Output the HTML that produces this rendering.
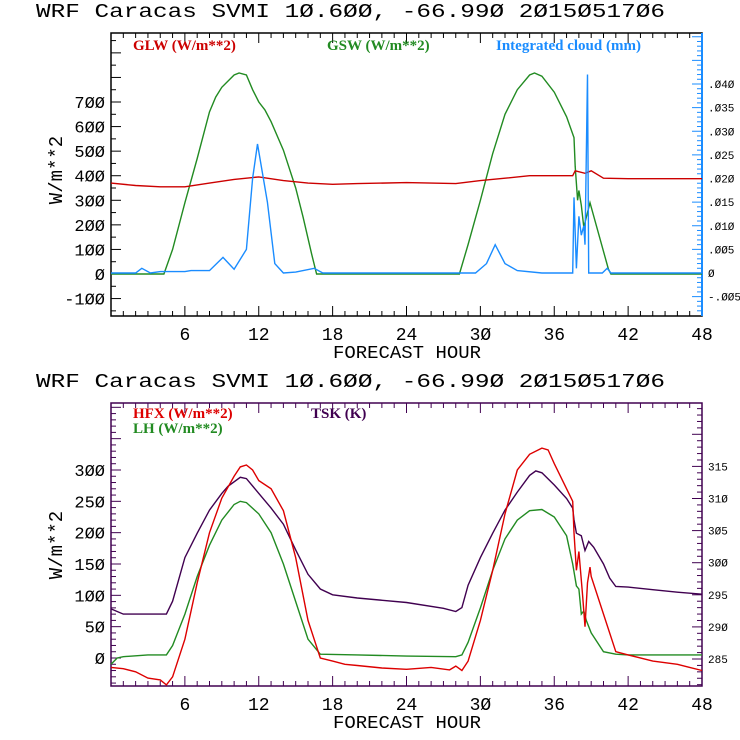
<!DOCTYPE html>
<html><head><meta charset="utf-8"><style>
html,body{margin:0;padding:0;background:#fff;}
svg{display:block;}
.t{font-family:"Liberation Mono","DejaVu Sans Mono",monospace;}
.lg{font-family:"Liberation Serif",serif;font-size:15px;font-weight:bold;}
</style></head><body>
<svg id="c" width="740" height="740" viewBox="0 0 740 740" xmlns="http://www.w3.org/2000/svg"></svg>
<script>
// ---------- data ----------
const glwHours=[0,2,4,6,8,10,12,14,16,18,20,24,28,30,32,34,37.5,37.7,38.5,39,40,42,48];
const glwVals=[370,360,355,355,370,385,395,380,370,365,368,372,368,380,390,400,400,420,410,420,390,388,388];
const gswHours=[0,4.3,5,6,7,8,8.5,9,10,10.4,11,11.5,12,12.5,13,14,15,15.6,16.3,16.7,28.3,29,30,31,32,33,34,34.4,35,36,37,37.6,37.7,37.9,38.0,38.2,38.4,38.6,38.9,40.4,40.6,48];
const gswVals=[0,0,100,290,470,660,720,760,810,818,810,750,700,668,620,504,350,231,80,0,0,120,300,490,650,750,810,818,805,740,640,555,437,300,340,280,190,231,290,20,0,0];
const cloudHours=[0,2,2.5,3.2,4,6,6.5,8,9.1,10,11,11.5,11.9,12.7,13.3,14,15,16.5,17.2,29.6,30.5,31.2,32,33,35,37.5,37.6,37.8,38,38.2,38.4,38.5,38.7,38.8,39.9,40.3,40.6,48];
const cloudVals=[0,0,.001,0,.0003,.0003,.0005,.0005,.0033,.0008,.005,.02,.0273,.015,.002,0,.0002,.001,0,0,.002,.006,.002,.0005,0,0,.016,.001,.012,.008,.01,.006,.042,0,0,.001,0,0];

const hfxHours=[0,1,2,3,4,4.5,5,6,7,8,9,10,10.5,11,11.5,12,13,14,15,16,17,18,19,20,22,24,26,27.5,28,28.5,29,30,31,32,33,34,35,35.5,36,37,37.5,37.6,37.8,38,38.3,38.5,38.7,38.9,39,40,41,42,44,46,47,48];
const hfxVals=[-15,-17,-22,-32,-35,-43,-30,30,120,200,255,290,305,308,300,283,270,235,160,60,0,-5,-10,-12,-16,-18,-15,-19,-13,-20,-5,60,140,230,300,325,335,332,310,270,250,200,140,170,100,50,120,145,130,70,10,5,-5,-10,-15,-20];
const lhHours=[0,0.5,1,3,4.5,5,6,7,8,9,10,10.5,11,12,13,14,15,16,17,20,24,28,28.5,29,30,31,32,33,34,35,36,37,37.5,37.8,38,38.2,38.4,38.6,39,40,41,42,48];
const lhVals=[-10,0,2,5,5,20,70,130,180,220,245,250,248,230,200,150,90,30,6,5,3,2,5,25,80,140,190,220,235,237,225,195,150,115,110,70,75,60,40,10,6,5,5];
const tskHours=[0,1,4.5,5,6,7,8,9,9.5,10.5,11,12,13,14,15,16,17,18,20,24,27,28,28.5,29,30,31,32,33,34,34.5,35,36,37,37.5,37.6,37.8,38.2,38.5,38.8,39.2,40,40.5,41,42,44,46,48];
const tskVals=[292.8,292.0,292.0,294,300.8,304.6,308.2,310.8,311.9,313.3,313.1,310.8,308.5,306,302,298.2,295.9,295.0,294.5,293.8,292.9,292.4,293.0,296.5,300.8,304.6,308.2,311,313.6,314.3,314,312.1,310,308.5,306.7,304.6,304.2,301.9,303.3,302.4,299.8,297.6,296.3,296.2,295.8,295.4,295.1];

const xTicks=[6,12,18,24,30,36,42,48];
const topLeftTicks=[-100,0,100,200,300,400,500,600,700];
const topRightTicks=[-.005,0,.005,.010,.015,.020,.025,.030,.035,.040];
const botLeftTicks=[0,50,100,150,200,250,300];
const botRightTicks=[285,290,295,300,305,310,315];

// ---------- helpers ----------
const svg=document.getElementById('c');
const NS='http://www.w3.org/2000/svg';
function mk(tag,attrs,parent){const e=document.createElementNS(NS,tag);for(const k in attrs)e.setAttribute(k,attrs[k]);(parent||svg).appendChild(e);return e;}
const X0=111,X1=702;
function xs(h){return X0+(X1-X0)*h/48;}
function lab(n){return String(n).replace(/0/g,'Ø');}
function fmtR(v){if(v===0)return 'Ø';let s=Math.abs(v).toFixed(3).replace(/^0/,'');s=s.replace(/0/g,'Ø');return (v<0?'-':'')+s;}

function panel(o){
  const g=mk('g',{});
  
  
  const t=mk('text',{x:36,y:o.top-16,'font-size':19,class:'t',fill:'#000','xml:space':'preserve',textLength:629,lengthAdjust:'spacingAndGlyphs'},g);
  
  
  t.textContent='WRF  Caracas SVMI  1Ø.6ØØ, -66.99Ø  2Ø15Ø517Ø6';
  const ys=v=>o.y0-(v)*o.ly;
  const yr=v=>o.ry0-(v-o.rmin)*o.ry;
  const fr=mk('rect',{x:X0,y:o.top,width:X1-X0,height:o.bot-o.top,fill:'none',stroke:o.frame,'stroke-width':1.5},g);
  
  
  if(o.rightColor){const rl=mk('line',{x1:X1,y1:o.top,x2:X1,y2:o.bot,stroke:o.rightColor,'stroke-width':2},g);
    }
  for(let h=1;h<48;h++){const L=h%6===0?10:5;const x=xs(h);
    mk('line',{x1:x,y1:o.bot,x2:x,y2:o.bot-L,stroke:o.frame},g);
    mk('line',{x1:x,y1:o.top,x2:x,y2:o.top+L,stroke:o.frame},g);}
  xTicks.forEach(h=>{const tx=mk('text',{x:xs(h),y:o.bot+24,'font-size':18,class:'t','text-anchor':'middle'},g);
    tx.textContent=lab(h);});
  const xt=mk('text',{x:333,y:o.bot+42,'font-size':18,class:'t','xml:space':'preserve',textLength:148,lengthAdjust:'spacingAndGlyphs'},g);
  xt.textContent='FORECAST HOUR';
  for(let v=o.lminTick;v<=o.lmaxTick;v+=o.lminor){const y=ys(v);if(y<o.top||y>o.bot)continue;
    const L=(Math.round(v/o.lmajor)*o.lmajor===v)?10:5;mk('line',{x1:X0,y1:y,x2:X0+L,y2:y,stroke:o.frame},g);}
  o.lticks.forEach(v=>{const tx=mk('text',{x:X0-6,y:ys(v)+6,'font-size':17,class:'t','text-anchor':'end'},g);
    tx.textContent=lab(v);});
  const yt=mk('text',{x:0,y:0,'font-size':19,class:'t','text-anchor':'middle',transform:`translate(${o.ytx},${o.ytc}) rotate(-90)`},g);
  yt.textContent='W/m**2';
  const rc=o.rightColor||o.frame;
  for(let i=0;;i++){const v=o.rTickStart+i*o.rminor;const y=yr(v);if(y<o.top)break;if(y>o.bot)continue;
    const isMaj=Math.abs(Math.round(v/o.rmajor)*o.rmajor-v)<1e-9;mk('line',{x1:X1,y1:y,x2:X1-(isMaj?10:5),y2:y,stroke:rc},g);}
  o.rticks.forEach(v=>{const tx=mk('text',{x:X1+6,y:yr(v)+4,'font-size':11,class:'t'},g);
    tx.textContent=o.rfmt(v);});
  o.series.forEach(s=>{const pts=s.h.map((h,i)=>xs(h).toFixed(1)+','+(s.right?yr(s.v[i]):ys(s.v[i])).toFixed(1)).join(' ');
    const p=mk('polyline',{points:pts,fill:'none',stroke:s.c,'stroke-width':1.4},g);
    });
  o.legend.forEach(l=>{const tx=mk('text',{x:l.x,y:l.y,fill:l.c,class:'lg','xml:space':'preserve'},g);
    tx.textContent=l.t;});
}

panel({name:'radiation-panel',top:33,bot:316,frame:'#000',rightColor:'#1a8cff',y0:274,ly:0.2457,
  lminTick:-150,lmaxTick:1000,lminor:50,lmajor:100,lticks:topLeftTicks,ytx:62,ytc:170,
  ry0:273,rmin:0,ry:4725,rTickStart:-.008,rminor:.001,rmajor:.005,rticks:topRightTicks,rfmt:fmtR,
  series:[
    {name:'gsw-line',h:gswHours,v:gswVals,c:'#228b22'},
    {name:'glw-line',h:glwHours,v:glwVals,c:'#cc0000'},
    {name:'cloud-line',h:cloudHours,v:cloudVals,c:'#1a8cff',right:true}],
  legend:[{x:133,y:50,c:'#cc0000',t:'GLW (W/m**2)'},{x:327,y:50,c:'#228b22',t:'GSW (W/m**2)'},{x:496,y:50,c:'#1a8cff',t:'Integrated cloud (mm)'}]
});
panel({name:'flux-panel',top:403,bot:686,frame:'#400050',rightColor:null,y0:658,ly:0.6267,
  lminTick:-40,lmaxTick:450,lminor:10,lmajor:50,lticks:botLeftTicks,ytx:62,ytc:545,
  ry0:659,rmin:285,ry:6.42,rTickStart:281,rminor:1,rmajor:5,rticks:botRightTicks,rfmt:v=>String(v).replace(/0/g,'Ø'),
  series:[
    {name:'tsk-line',h:tskHours,v:tskVals,c:'#400050',right:true},
    {name:'lh-line',h:lhHours,v:lhVals,c:'#228b22'},
    {name:'hfx-line',h:hfxHours,v:hfxVals,c:'#dd0000'}],
  legend:[{x:133,y:418,c:'#dd0000',t:'HFX (W/m**2)'},{x:133,y:433,c:'#228b22',t:'LH  (W/m**2)'},{x:311,y:418,c:'#400050',t:'TSK (K)'}]
});
</script>
</body></html>
